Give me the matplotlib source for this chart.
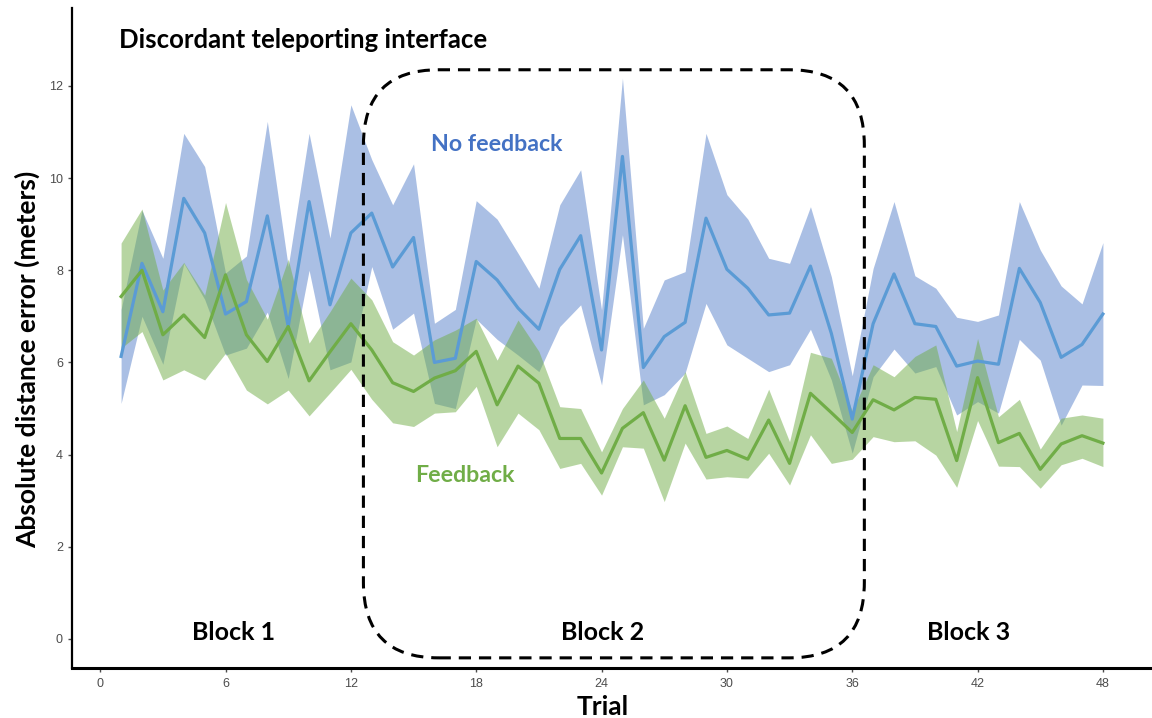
import numpy as np
import matplotlib
matplotlib.use("Agg")
import matplotlib.pyplot as plt
from matplotlib.patches import FancyBboxPatch

# trial index and mean +/- band
trials = list(range(1, 49))

nofb_mean = [6.13, 8.15, 7.10, 9.56, 8.81, 7.05, 7.32, 9.18, 6.78, 9.49, 7.25, 8.81,
             9.24, 8.07, 8.71, 6.00, 6.09, 8.19, 7.79, 7.18, 6.72, 8.02, 8.75, 6.27,
             10.47, 5.89, 6.56, 6.87, 9.13, 8.02, 7.61, 7.03, 7.07, 8.09, 6.63, 4.77,
             6.84, 7.92, 6.84, 6.78, 5.92, 6.03, 5.96, 8.04, 7.30, 6.11, 6.39, 7.05]
nofb_upper = [7.15, 9.30, 8.26, 10.97, 10.25, 7.94, 8.31, 11.23, 8.08, 10.97, 8.70, 11.59,
              10.40, 9.42, 10.31, 6.85, 7.15, 9.51, 9.11, 8.37, 7.61, 9.42, 10.18, 7.14,
              12.17, 6.74, 7.79, 7.97, 10.97, 9.64, 9.11, 8.26, 8.15, 9.38, 7.86, 5.71,
              8.04, 9.49, 7.88, 7.61, 6.98, 6.89, 7.03, 9.49, 8.44, 7.66, 7.27, 8.60]
nofb_lower = [5.11, 7.00, 5.96, 8.15, 7.37, 6.16, 6.31, 7.09, 5.65, 8.00, 5.84, 6.01,
              8.08, 6.72, 7.07, 5.11, 5.00, 6.94, 6.50, 6.16, 5.80, 6.78, 7.25, 5.51,
              8.77, 5.08, 5.30, 5.77, 7.28, 6.38, 6.09, 5.80, 5.95, 6.72, 5.62, 4.03,
              5.69, 6.29, 5.77, 5.91, 4.86, 5.15, 4.90, 6.50, 6.05, 4.64, 5.51, 5.50]

fb_mean = [7.43, 8.00, 6.60, 7.03, 6.54, 7.90, 6.60, 6.02, 6.78, 5.60, 6.23, 6.84,
           6.27, 5.56, 5.37, 5.66, 5.82, 6.24, 5.08, 5.92, 5.55, 4.35, 4.35, 3.60,
           4.57, 4.91, 3.88, 5.06, 3.94, 4.09, 3.90, 4.75, 3.81, 5.33, 4.91, 4.48,
           5.19, 4.97, 5.24, 5.20, 3.87, 5.67, 4.26, 4.46, 3.68, 4.23, 4.41, 4.25]
fb_upper = [8.59, 9.33, 7.57, 8.17, 7.46, 9.47, 7.80, 6.94, 8.24, 6.42, 7.10, 7.83,
            7.36, 6.45, 6.16, 6.49, 6.70, 6.96, 6.05, 6.92, 6.24, 5.04, 5.00, 4.06,
            5.00, 5.62, 4.79, 5.80, 4.46, 4.62, 4.35, 5.42, 4.28, 6.22, 6.09, 4.95,
            5.95, 5.69, 6.13, 6.38, 4.50, 6.52, 4.82, 5.20, 4.12, 4.79, 4.86, 4.79]
fb_lower = [6.31, 6.67, 5.62, 5.84, 5.62, 6.20, 5.40, 5.10, 5.40, 4.84, 5.34, 5.85,
            5.20, 4.69, 4.61, 4.90, 4.93, 5.48, 4.17, 4.90, 4.54, 3.70, 3.81, 3.12,
            4.17, 4.14, 2.98, 4.25, 3.47, 3.52, 3.49, 4.03, 3.34, 4.43, 3.81, 3.90,
            4.39, 4.28, 4.30, 3.99, 3.29, 4.74, 3.75, 3.74, 3.27, 3.78, 3.92, 3.74]

xticks = [0, 6, 12, 18, 24, 30, 36, 42, 48]
yticks = [0, 2, 4, 6, 8, 10, 12]
block_names = ["Block 1", "Block 2", "Block 3"]
block_x = [6.4, 24.07, 41.55]

BOLD = ["Lato", "DejaVu Sans"]
NARROW = ["Liberation Sans Narrow", "Liberation Sans", "DejaVu Sans"]

fig = plt.figure(figsize=(11.52, 7.18), dpi=100)
ax = fig.add_axes([72 / 1152, 50 / 718, 1080 / 1152, 660 / 718])

ax.fill_between(trials, nofb_lower, nofb_upper, color="#4472C4", alpha=0.45, lw=0)
ax.fill_between(trials, fb_lower, fb_upper, color="#70AD47", alpha=0.5, lw=0)
ax.plot(trials, nofb_mean, color="#5B9BD5", lw=2.3)
ax.plot(trials, fb_mean, color="#70AD47", lw=2.3)

# dashed rounded box around block 2
box = FancyBboxPatch((12.6, -0.41), 23.98, 12.76,
                     boxstyle="round,pad=0,rounding_size=3.6",
                     mutation_aspect=20.94 / 46.08,
                     fill=False, ec="black", lw=2.2, ls=(0, (4, 2.6)), zorder=5)
ax.add_patch(box)

ax.text(0.9, 13.0, "Discordant teleporting interface", fontsize=18.5,
        fontweight="bold", family=BOLD, va="center", ha="left")
ax.text(18.96, 10.72, "No feedback", fontsize=16.7, fontweight="bold",
        family=BOLD, color="#4472C4", ha="center", va="center")
ax.text(17.48, 3.54, "Feedback", fontsize=16.7, fontweight="bold",
        family=BOLD, color="#70AD47", ha="center", va="center")
for name, bx in zip(block_names, block_x):
    ax.text(bx, 0.13, name, fontsize=18, fontweight="bold", family=BOLD,
            ha="center", va="center")

ax.set_xlim(-1.35, 50.35)
ax.set_ylim(-0.63, 13.69)
ax.set_xticks(xticks)
ax.set_yticks(yticks)
for lab in ax.get_xticklabels() + ax.get_yticklabels():
    lab.set_family(NARROW)
ax.tick_params(colors="#4D4D4D", labelsize=9, length=3, width=1)
ax.tick_params(axis="x", pad=4)

ax.set_xlabel("Trial", fontsize=19, fontweight="bold", family=BOLD)
ax.set_ylabel("Absolute distance error (meters)", fontsize=19,
              fontweight="bold", family=BOLD)
ax.xaxis.label.set_verticalalignment("center")
ax.yaxis.label.set_verticalalignment("center")
ax.xaxis.set_label_coords(0.4917, -0.059)
ax.yaxis.set_label_coords(-0.041, 0.467)

for side in ["top", "right"]:
    ax.spines[side].set_visible(False)
ax.spines["left"].set_linewidth(1.6)
ax.spines["bottom"].set_linewidth(2.2)

fig.savefig("out.png", dpi=100)
